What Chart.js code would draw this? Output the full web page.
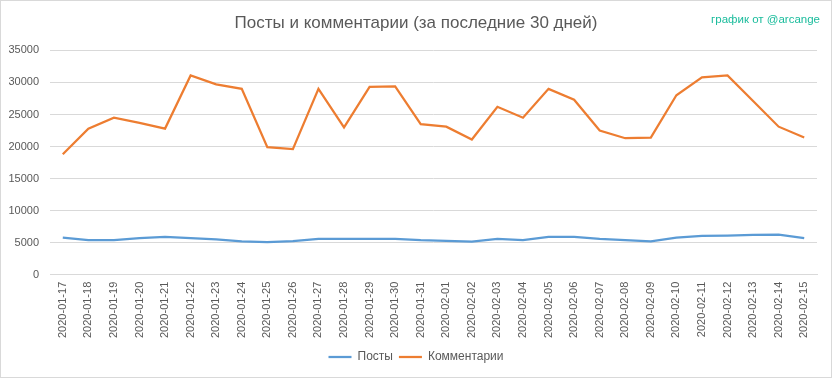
<!DOCTYPE html>
<html>
<head>
<meta charset="utf-8">
<script src="https://cdn.jsdelivr.net/npm/chart.js@4"></script>
<style>
    html, body { margin: 0; padding: 0; background: #fff; }
    #wrap { position: relative; width: 832px; height: 378px; box-sizing: border-box; border: 1px solid #d9d9d9; }
    #credit { position: absolute; right: 11px; top: 12px; font: 11.5px "Liberation Sans", sans-serif; color: #1abc9c; }
</style>
</head>
<body>
<div id="wrap">
    <canvas id="postsChart" width="830" height="376"></canvas>
    <div id="credit">график от @arcange</div>
</div>
<script>
const days = ["2020-01-17", "2020-01-18", "2020-01-19", "2020-01-20", "2020-01-21", "2020-01-22", "2020-01-23", "2020-01-24", "2020-01-25", "2020-01-26", "2020-01-27", "2020-01-28", "2020-01-29", "2020-01-30", "2020-01-31", "2020-02-01", "2020-02-02", "2020-02-03", "2020-02-04", "2020-02-05", "2020-02-06", "2020-02-07", "2020-02-08", "2020-02-09", "2020-02-10", "2020-02-11", "2020-02-12", "2020-02-13", "2020-02-14", "2020-02-15"];
const posts = [5800, 5400, 5400, 5700, 5900, 5700, 5500, 5200, 5100, 5250, 5600, 5600, 5600, 5600, 5400, 5300, 5150, 5600, 5400, 5900, 5900, 5600, 5400, 5200, 5800, 6050, 6100, 6200, 6250, 5700];
const comments = [18800, 22800, 24500, 23700, 22800, 31100, 29700, 29000, 19900, 19600, 29000, 23000, 29300, 29400, 23500, 23100, 21100, 26200, 24500, 29000, 27300, 22500, 21300, 21400, 28000, 30800, 31100, 27100, 23100, 21400];

Chart.defaults.font.family = '"Liberation Sans", sans-serif';
Chart.defaults.color = '#595959';

new Chart(document.getElementById('postsChart').getContext('2d'), {
    type: 'line',
    data: {
        labels: days,
        datasets: [{
            label: 'Посты',
            data: posts,
            borderColor: '#5b9bd5',
            backgroundColor: '#5b9bd5',
            borderWidth: 2.25,
            pointRadius: 0,
            tension: 0
        }, {
            label: 'Комментарии',
            data: comments,
            borderColor: '#ed7d31',
            backgroundColor: '#ed7d31',
            borderWidth: 2.25,
            pointRadius: 0,
            tension: 0
        }]
    },
    options: {
        responsive: false,
        animation: false,
        layout: { padding: { left: 0, right: 0, top: 0, bottom: 4 } },
        plugins: {
            title: {
                display: true,
                text: 'Посты и комментарии (за последние 30 дней)',
                font: { size: 17, weight: 'normal' },
                color: '#595959',
                padding: { top: 12, bottom: 17 }
            },
            legend: {
                position: 'bottom',
                labels: {
                    usePointStyle: true,
                    pointStyle: 'line',
                    pointStyleWidth: 23,
                    font: { size: 12 },
                    padding: 6
                }
            },
            tooltip: { enabled: false }
        },
        scales: {
            x: {
                offset: true,
                grid: { display: false, drawTicks: false },
                border: { color: '#d9d9d9' },
                ticks: { minRotation: 90, maxRotation: 90, autoSkip: false, font: { size: 11 }, padding: 7 }
            },
            y: {
                min: 0,
                max: 35000,
                grid: { color: '#d9d9d9', drawTicks: false },
                border: { display: false },
                ticks: { stepSize: 5000, font: { size: 11 }, padding: 11, callback: v => String(v) },
                afterFit: s => { s.width = 49; }
            },
            yRight: {
                type: 'linear',
                position: 'right',
                grid: { display: false },
                border: { display: false },
                ticks: { display: false },
                afterFit: s => { s.width = 14; }
            }
        }
    }
});
</script>
</body>
</html>
